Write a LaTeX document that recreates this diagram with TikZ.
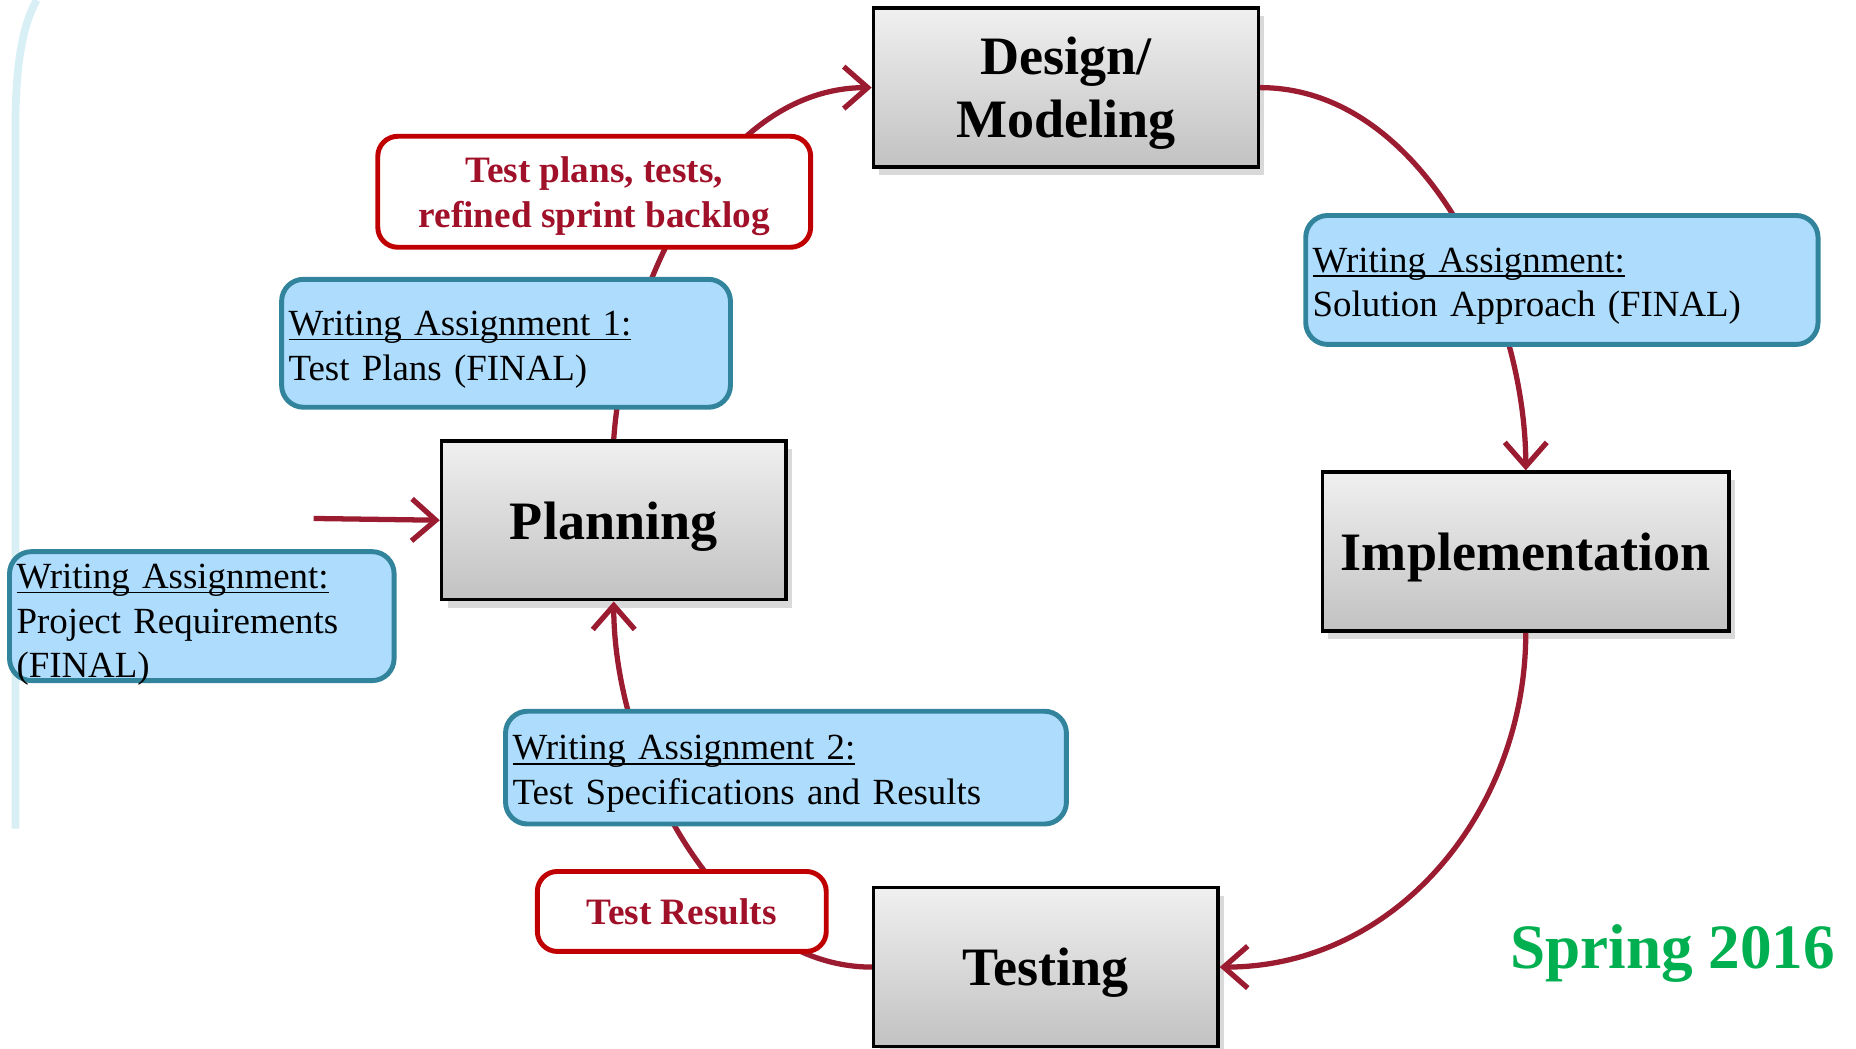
\documentclass[tikz,border=0pt]{standalone}
\usepackage{fontspec}
\setmainfont{Liberation Serif}
\usetikzlibrary{arrows.meta,shadows}

\definecolor{flowred}{RGB}{155,27,48}
\definecolor{outline}{RGB}{192,0,0}
\definecolor{outtext}{RGB}{160,16,40}
\definecolor{notefill}{RGB}{174,220,252}
\definecolor{noteline}{RGB}{49,132,155}
\definecolor{termgreen}{RGB}{0,176,80}
\definecolor{framecyan}{RGB}{216,239,245}

% underline that runs through the descenders
\newlength{\walen}
\newcommand{\waline}[1]{\settowidth{\walen}{#1}\rlap{\rule[-1.4pt]{\walen}{0.5pt}}#1}

\begin{document}
\begin{tikzpicture}[x=0.011837cm, y=-0.011837cm,   % one unit = one pixel, y down
                    >={Straight Barb[length=2.4mm,width=4.2mm]},   % arrow tip
                    stage/.style={draw=black, line width=1pt, top color=gray!12, bottom color=gray!48,
                                  drop shadow={opacity=0.3, shadow xshift=0.6mm, shadow yshift=-0.8mm},
                                  minimum height=1.59cm, align=center, text depth=0pt,
                                  font=\fontsize{15.4}{17.9}\selectfont\bfseries},
                    note/.style={draw=noteline, line width=1.4pt, fill=notefill, rounded corners=2.2mm,
                                 align=left, inner xsep=0.07cm, text height=10.5pt,
                                 font=\fontsize{10.5}{12.7}\selectfont},
                    output/.style={draw=outline, line width=1.4pt, fill=white, rounded corners=2mm,
                                   align=center, text=outtext, text depth=-0.6pt,
                                   font=\fontsize{10.6}{12.8}\selectfont\bfseries},
                    flow/.style={->, flowred, line width=1.5pt}
                    ]

\useasboundingbox (0,0) rectangle (1568,886);

% slide frame
\draw[framecyan, line width=2.2pt] (13,700) -- (13,110) .. controls (13,50) and (20,20) .. (31,0);

% Stages
\node[stage, minimum width=3.85cm]  (design) at (900.5,74)  {Design/\\Modeling};
\node[stage, minimum width=3.445cm] (plan)   at (518.5,439.5) {Planning};
\node[stage, minimum width=4.07cm]  (impl)   at (1289,466)  {Implementation};
\node[stage, minimum width=3.445cm] (test)   at (883.5,817) {Testing};

% Cycle
\draw[flow] (plan.north) to[out=86,in=180,looseness=0.9] (design.west);
\draw[flow] (design.east) to[out=0,in=90,looseness=0.9] (impl.north);
\draw[flow] (impl.south) to[out=-90,in=0] (test.east);
\draw[flow] (test.west) to[out=180,in=-90,looseness=0.88] (plan.south);

\coordinate (start) at (265,438);
\draw[flow] (start) -- (plan.west);

% Writing assignments
\node[note, text width=4.35cm, minimum height=1.28cm] (wa1) at (427.5,290)
     {\waline{Writing Assignment 1:}\\Test Plans (FINAL)};
\node[note, text width=4.985cm, minimum height=1.29cm] (wasol) at (1319.5,236.5)
     {\waline{Writing Assignment:}\\Solution Approach (FINAL)};
\node[note, text width=3.707cm, minimum height=1.29cm, inner ysep=0pt, text depth=26.2pt] (wareq) at (170.5,520.5)
     {\waline{Writing Assignment:}\\Project Requirements\\(FINAL)};
\node[note, text width=5.471cm, minimum height=1.125cm] (wa2) at (664,648.5)
     {\waline{Writing Assignment 2:}\\Test Specifications and Results};

% Outputs
\node[output, minimum width=4.33cm, minimum height=1.11cm] (plans) at (502,162)
     {Test plans, tests,\\refined sprint backlog};
\node[output, minimum width=2.89cm, minimum height=0.8cm] (results) at (576,770) {Test Results};

\node[text=termgreen, text depth=0pt, font=\fontsize{18}{20}\selectfont\bfseries] (term) at (1413,800) {Spring 2016};

\end{tikzpicture}
\end{document}
